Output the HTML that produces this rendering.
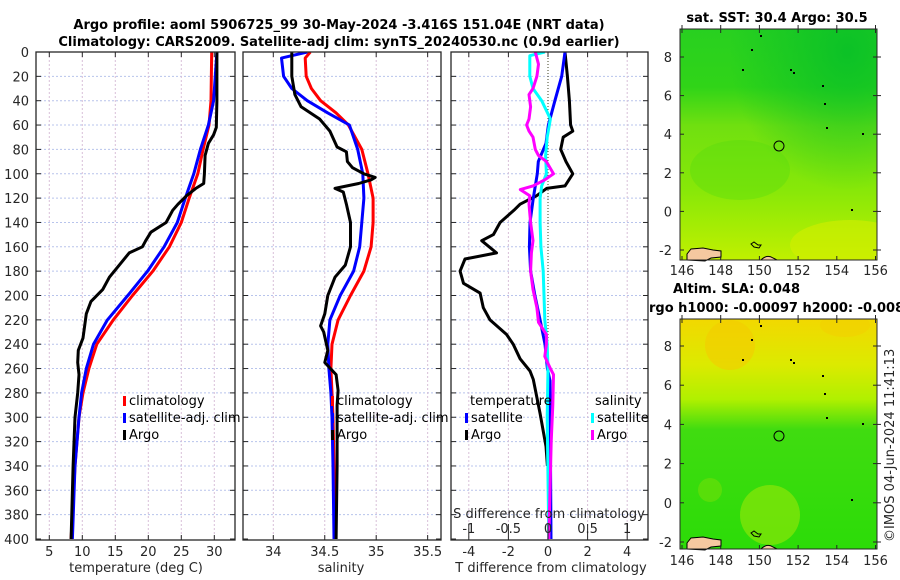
<!DOCTYPE html>
<html><head><meta charset="utf-8">
<style>
body{margin:0;background:#fff;}
svg{display:block;font-family:"DejaVu Sans","Liberation Sans",sans-serif;}
.tk{font-size:13px;fill:#262626;}
.tt{font-size:13px;font-weight:bold;fill:#000;}
.lg{font-size:13px;fill:#000;}
</style></head>
<body>
<svg id="fig" width="900" height="580" viewBox="0 0 900 580">
<defs>
 <clipPath id="c1"><rect x="36" y="52" width="199" height="488"/></clipPath>
 <clipPath id="c2"><rect x="243" y="52" width="198" height="488"/></clipPath>
 <clipPath id="c3"><rect x="451" y="52" width="197" height="488"/></clipPath>
 <clipPath id="m1"><rect x="680" y="29" width="197" height="231"/></clipPath>
 <clipPath id="m2"><rect x="680" y="319" width="197" height="230"/></clipPath>
 <linearGradient id="g1" x1="0" y1="0" x2="0" y2="1">
  <stop offset="0" stop-color="#28d020"/><stop offset="0.25" stop-color="#30d418"/>
  <stop offset="0.42" stop-color="#70e010"/><stop offset="0.7" stop-color="#88e808"/>
  <stop offset="1" stop-color="#c0f000"/></linearGradient>
 <radialGradient id="g1b" cx="0.85" cy="0.1" r="0.6"><stop offset="0" stop-color="#08c028" stop-opacity="0.9"/><stop offset="1" stop-color="#08c028" stop-opacity="0"/></radialGradient>
 <linearGradient id="g2" x1="0" y1="0" x2="0" y2="1">
  <stop offset="0" stop-color="#f2d800"/><stop offset="0.2" stop-color="#dcea00"/>
  <stop offset="0.35" stop-color="#b0f000"/><stop offset="0.48" stop-color="#40dc10"/>
  <stop offset="1" stop-color="#2cdc08"/></linearGradient>
</defs>

<text class="tt" x="339" y="29" text-anchor="middle">Argo profile: aoml 5906725_99 30-May-2024 -3.416S 151.04E (NRT data)</text>
<text class="tt" x="339" y="46" text-anchor="middle">Climatology: CARS2009. Satellite-adj clim: synTS_20240530.nc (0.9d earlier)</text>

<g id="p1"></g>
<g id="p2"></g>
<g id="p3"></g>

<!-- map 1 -->
<g clip-path="url(#m1)">
 <rect x="680" y="29" width="197" height="231" fill="url(#g1)"/>
 <rect x="680" y="29" width="197" height="231" fill="url(#g1b)"/>
 <ellipse cx="850" cy="245" rx="60" ry="25" fill="#d4ee00" opacity="0.6"/>
 <ellipse cx="740" cy="170" rx="50" ry="30" fill="#58dc10" opacity="0.4"/>
 <circle cx="779" cy="146" r="5" fill="none" stroke="#000" stroke-width="1"/>
</g>
<text class="tt" x="777" y="22" text-anchor="middle">sat. SST: 30.4 Argo: 30.5</text>
<!-- map 2 -->
<g clip-path="url(#m2)">
 <rect x="680" y="319" width="197" height="230" fill="url(#g2)"/>
 <ellipse cx="730" cy="345" rx="25" ry="25" fill="#f4cc00" opacity="0.6"/>
 <ellipse cx="845" cy="325" rx="25" ry="12" fill="#f2d000" opacity="0.6"/>
 <ellipse cx="770" cy="515" rx="30" ry="30" fill="#9ae808" opacity="0.6"/>
 <ellipse cx="710" cy="490" rx="12" ry="12" fill="#70e008" opacity="0.6"/>
 <circle cx="779" cy="436" r="5" fill="none" stroke="#000" stroke-width="1"/>
</g>
<text class="tt" x="673" y="293">Altim. SLA: 0.048</text>
<text class="tt" x="649" y="312">rgo h1000: -0.00097 h2000: -0.008</text>
<g id="maps"></g>
<text class="tk" transform="translate(894,542) rotate(-90)">©IMOS 04-Jun-2024 11:41:13</text>
</svg>
<script>
// ---------- data ----------
const tDepths=[0,40,60,80,100,120,140,160,180,200,220,240,260,280,300,340,400];
const tClim=[29.6,29.5,29.2,28.3,27.5,26.2,25.0,23.2,20.7,17.6,14.7,12.2,11.0,10.1,9.5,8.9,8.3];
const tSat=[30.4,29.9,29.1,27.9,26.9,25.6,24.4,22.4,19.9,16.9,13.8,11.7,10.6,9.9,9.5,8.9,8.5];
const tArgoD=[0,40,62,68,75,85,100,108,112,118,125,130,140,148,155,160,165,175,185,195,205,215,235,245,255,265,280,300,340,400];
const tArgo=[30.4,30.4,30.3,29.9,29.1,28.6,28.5,28.4,27.2,25.8,24.5,23.7,22.7,20.4,19.6,19.1,17.1,15.6,14.1,13.1,11.3,10.6,10.1,9.4,9.3,9.5,9.3,8.9,8.6,8.3];
const sDepths=[0,5,20,30,40,50,60,80,100,120,140,160,180,200,220,240,260,280,300,340,400];
const sClim=[34.36,34.31,34.32,34.37,34.46,34.61,34.73,34.86,34.92,34.97,34.97,34.95,34.88,34.75,34.63,34.57,34.56,34.57,34.58,34.59,34.59];
const sSat=[34.33,34.08,34.10,34.18,34.33,34.53,34.74,34.82,34.87,34.88,34.86,34.84,34.78,34.65,34.55,34.53,34.54,34.56,34.57,34.58,34.59];
const sArgoD=[0,20,35,45,55,65,78,82,90,95,100,103,105,108,112,115,125,140,160,175,185,200,215,225,230,245,255,265,278,290,340,400];
const sArgo=[34.18,34.18,34.21,34.27,34.45,34.55,34.62,34.71,34.72,34.77,34.88,34.99,34.95,34.83,34.6,34.68,34.71,34.75,34.75,34.7,34.6,34.53,34.5,34.46,34.49,34.53,34.5,34.61,34.63,34.62,34.62,34.61];
const dtArgoD=[0,20,40,60,65,70,80,90,100,110,112,118,125,130,140,150,155,165,170,180,190,198,210,220,232,240,252,262,269,297,324,340];
const dtArgo=[0.86,0.98,1.08,1.14,1.25,0.77,0.64,0.91,1.25,0.86,-0.07,-0.57,-1.41,-1.72,-2.42,-2.76,-3.35,-2.6,-4.19,-4.44,-4.27,-3.43,-3.27,-2.93,-2.09,-1.76,-1.41,-0.91,-0.74,-0.4,-0.1,-0.03];
const dtSatD=[0,20,40,60,75,90,100,120,140,160,180,200,220,240,260,270,400];
const dtSat=[0.86,0.69,0.35,0.02,-0.1,-0.49,-0.54,-0.74,-0.91,-0.94,-0.88,-0.66,-0.4,-0.15,-0.03,0.1,0.15];
const dsSatD=[0,3,20,30,40,55,70,85,100,110,120,140,160,180,200,220,240,260,300,400];
const dsSat=[-0.04,-0.23,-0.23,-0.19,-0.08,0.03,-0.01,-0.03,-0.02,-0.08,-0.1,-0.1,-0.09,-0.06,-0.05,-0.04,-0.01,0,-0.01,0.01];
const dsArgoD=[0,10,20,30,35,45,55,60,65,70,80,85,90,100,105,110,113,118,125,140,155,165,180,195,210,222,232,240,250,260,265,290,320,400];
const dsArgo=[-0.16,-0.12,-0.14,-0.19,-0.24,-0.22,-0.24,-0.27,-0.24,-0.19,-0.16,-0.12,-0.02,0.07,-0.04,-0.19,-0.35,-0.23,-0.24,-0.22,-0.19,-0.21,-0.22,-0.19,-0.14,-0.12,-0.02,-0.02,-0.04,0.03,0.07,0.06,0.04,0.01];
const depthTicks=[0,20,40,60,80,100,120,140,160,180,200,220,240,260,280,300,320,340,360,380,400];
const tTicks=[5,10,15,20,25,30];
const sTicks=[34,34.5,35,35.5];
const sTickLabels=["34","34.5","35","35.5"];
const dtTicks=[-4,-2,0,2,4];
const dsTicks=[-1,-0.5,0,0.5,1];
const dsTickLabels=["-1","-0.5","0","0.5","1"];
const lonTicks=[146,148,150,152,154,156];
const latTicks=[8,6,4,2,0,-2];

// ---------- axes ----------
const NS='http://www.w3.org/2000/svg';
const yD=d=>52+d*1.2175;
const xT=t=>49.3+(t-5)*6.6;
const xS=s=>273.3+(s-34)*102.9;
const xDT=t=>548+t*19.8;
const xDS=s=>548+s*79.2;
function mk(parent,tag,attrs){const e=document.createElementNS(NS,tag);for(const k in attrs)e.setAttribute(k,attrs[k]);parent.appendChild(e);return e;}
function line(p,x1,y1,x2,y2,st,w,da){return mk(p,'line',{x1,y1,x2,y2,stroke:st,'stroke-width':w||1,'stroke-dasharray':da||'none'});}
function txt(p,x,y,s,cls,anchor){const e=mk(p,'text',{x,y,class:cls,'text-anchor':anchor||'start'});e.textContent=s;return e;}
function series(p,ds,vs,fx,color,name,clip){
  const pts=ds.map((d,i)=>fx(vs[i]).toFixed(1)+','+yD(d).toFixed(1)).join(' ');
  const e=mk(p,'polyline',{points:pts,fill:'none',stroke:color,'stroke-width':3,'stroke-linejoin':'round','clip-path':'url(#'+clip+')'});
  
  
}
function frame(p,x0,x1,xs,fx){
  const g=mk(p,'g',{});
  depthTicks.forEach(d=>{ if(d>0&&d<400) line(g,x0,yD(d),x1,yD(d),'#b8c4ec',1,'2,2');});
  xs.forEach(v=>{const x=fx(v); if(x>x0&&x<x1) line(g,x,52,x,540,'#d8c0d8',1,'2,2');});
  return g;
}
function box(p,x0,x1,xs,fx){
  mk(p,'rect',{x:x0,y:52,width:x1-x0,height:488,fill:'none',stroke:'#262626','stroke-width':1.3});
  depthTicks.forEach(d=>{line(p,x0,yD(d),x0+5,yD(d),'#262626',1);line(p,x1-5,yD(d),x1,yD(d),'#262626',1);});
  xs.forEach(v=>{const x=fx(v);line(p,x,540,x,535,'#262626',1);line(p,x,52,x,57,'#262626',1);});
}
function legend(p,x,y,color,label,nm){
  const r=mk(p,'rect',{x:x,y:y-9,width:3,height:10,fill:color});
  
  
  const t=txt(p,x+6,y,label,'lg');
  
  
}

// panel 1
const p1=document.getElementById('p1');
frame(p1,36,235,tTicks,xT);
series(p1,tDepths,tClim,xT,'#ff0000','temp-climatology-line','c1');
series(p1,tDepths,tSat,xT,'#0000ff','temp-satellite-line','c1');
series(p1,tArgoD,tArgo,xT,'#000000','temp-argo-line','c1');
box(p1,36,235,tTicks,xT);
depthTicks.forEach(d=>txt(p1,29,yD(d)+5,String(d),'tk','end'));
tTicks.forEach(v=>txt(p1,xT(v),556,String(v),'tk','middle'));
{const t=txt(p1,136,572,'temperature (deg C)','tk','middle');}
legend(p1,123,405,'#ff0000','climatology','legend-climatology');
legend(p1,123,422,'#0000ff','satellite-adj. clim','legend-satellite-adj');
legend(p1,123,439,'#000000','Argo','legend-argo');

// panel 3 (drawn before panel 2 legend so that text overlaps)
const p3=document.getElementById('p3');
frame(p3,451,648,[-4,-2,2,4],xDT);
line(p3,548,52,548,540,'#404020',1,'1,2');
series(p3,dtArgoD,dtArgo,xDT,'#000000','tdiff-argo-line','c3');
series(p3,dtSatD,dtSat,xDT,'#0000ff','tdiff-satellite-line','c3');
series(p3,dsSatD,dsSat,xDS,'#00ffff','sdiff-satellite-line','c3');
series(p3,dsArgoD,dsArgo,xDS,'#ff00ff','sdiff-argo-line','c3');
box(p3,451,648,dtTicks,xDT);
dtTicks.forEach(v=>txt(p3,xDT(v),556,String(v),'tk','middle'));
dsTicks.forEach((v,i)=>{line(p3,xDS(v),524,xDS(v),535,'#262626',1);txt(p3,xDS(v),533,dsTickLabels[i],'tk','middle');});
{const t=txt(p3,549,518,'S difference from climatology','tk','middle');}
{const t=txt(p3,551,572,'T difference from climatology','tk','middle');}
txt(p3,470,405,'temperature','lg');
txt(p3,595,405,'salinity','lg');
legend(p3,465,422,'#0000ff','satellite','legend3-temp-satellite');
legend(p3,465,439,'#000000','Argo','legend3-temp-argo');
legend(p3,591,422,'#00ffff','satellite','legend3-sal-satellite');
legend(p3,591,439,'#ff00ff','Argo','legend3-sal-argo');

// panel 2
const p2=document.getElementById('p2');
frame(p2,243,441,sTicks,xS);
series(p2,sDepths,sClim,xS,'#ff0000','sal-climatology-line','c2');
series(p2,sDepths,sSat,xS,'#0000ff','sal-satellite-line','c2');
series(p2,sArgoD,sArgo,xS,'#000000','sal-argo-line','c2');
box(p2,243,441,sTicks,xS);
sTicks.forEach((v,i)=>txt(p2,xS(v),556,sTickLabels[i],'tk','middle'));
{const t=txt(p2,341,572,'salinity','tk','middle');}
legend(p2,331,405,'#ff0000','climatology','legend2-climatology');
legend(p2,331,422,'#0000ff','satellite-adj. clim','legend2-satellite-adj');
legend(p2,331,439,'#000000','Argo','legend2-argo');

// maps axes
const mg=document.getElementById('maps');
const xLon=l=>682+(l-146)*19.35;
[[29,260,57,275],[319,549,346,565]].forEach(([top,bot,y8,ly],mi)=>{
  const yLat=la=>y8+(8-la)*(mi?19.6:19.3);
  const lp=mk(mg,'path',{d:`M687 ${bot-6} l4 -5 l12 -1 l10 2 l8 1 l0 6 l-10 1 l-6 3 l-18 -1 z`,fill:'#f5c8a0',stroke:'#000','stroke-width':1});
  
  
  mk(mg,'path',{d:`M761 ${bot} q6 -6 12 -2 l4 2 z`,fill:'#f5c8a0',stroke:'#000','stroke-width':1});
  mk(mg,'path',{d:`M751 ${bot-16} l3 -2 l4 3 l3 0 l-2 3 l-5 -1 z`,fill:'none',stroke:'#000','stroke-width':1});
  [[790,top+40],[793,top+43],[826,top+98],[822,top+56],[824,top+74],[862,top+104],[851,top+180],[751,top+20],[760,top+6],[742,top+40]].forEach(([x,y])=>mk(mg,'rect',{x:x,y:y,width:2,height:2,fill:'#000'}));
  mk(mg,'rect',{x:680,y:top,width:197,height:bot-top,fill:'none',stroke:'#262626','stroke-width':1});
  lonTicks.forEach(l=>{const x=xLon(l);line(mg,x,bot,x,bot-4,'#262626',1);line(mg,x,top,x,top+4,'#262626',1);line(mg,x,top,x,top-4,'#262626',1);txt(mg,x,ly,String(l),'tk','middle');});
  latTicks.forEach(la=>{const y=yLat(la);line(mg,680,y,684,y,'#262626',1);line(mg,873,y,877,y,'#262626',1);line(mg,877,y,881,y,'#262626',1);txt(mg,672,y+5,String(la),'tk','end');});
});
</script>
</body></html>
